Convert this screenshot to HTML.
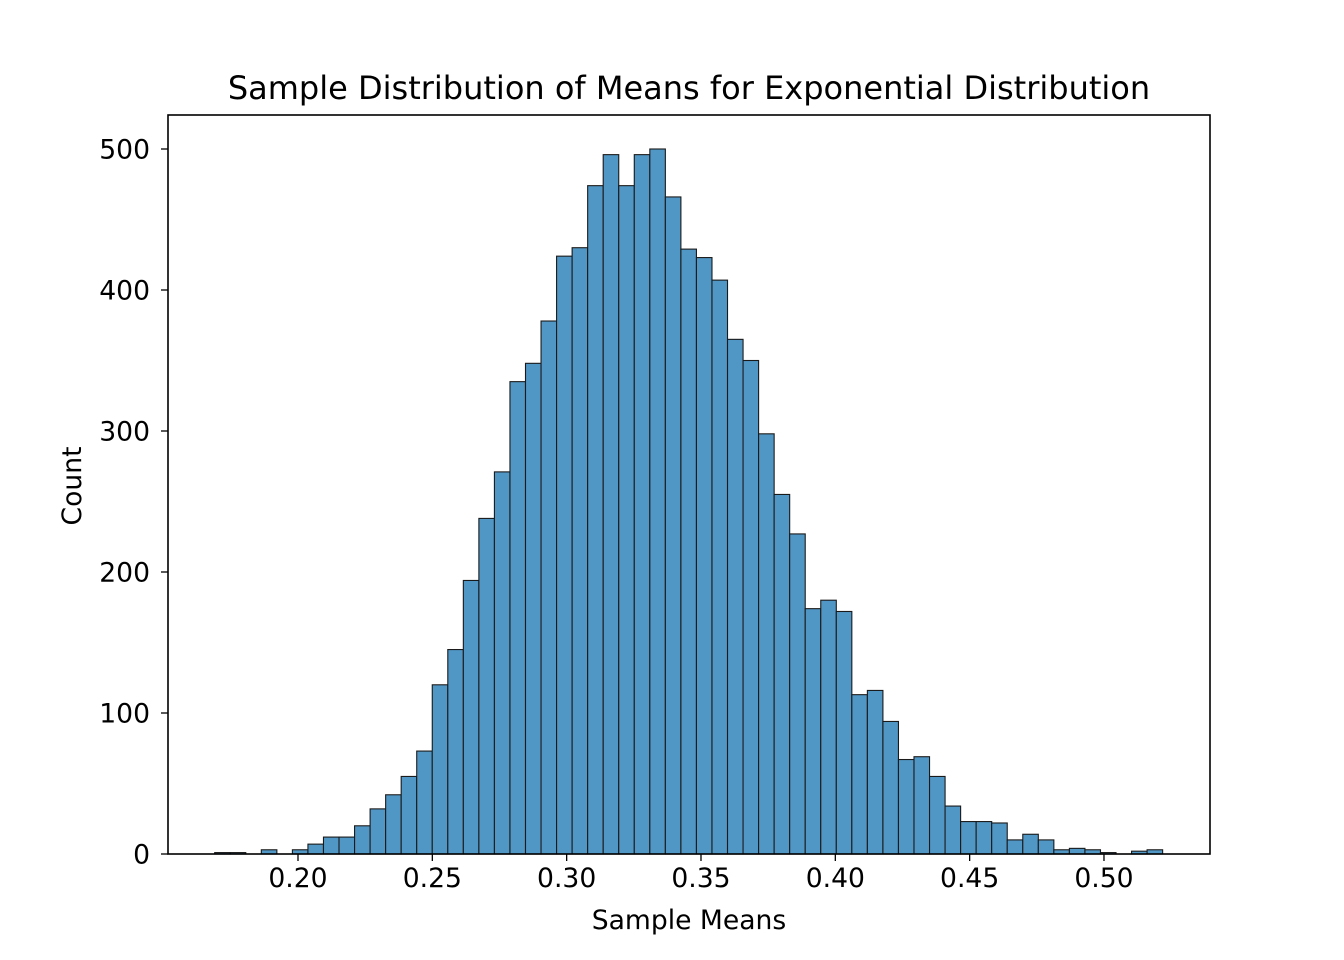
<!DOCTYPE html>
<html><head><meta charset="utf-8"><style>
html,body{margin:0;padding:0;background:#fff;}
svg{display:block;font-family:"DejaVu Sans","Liberation Sans",sans-serif;}
</style></head><body>
<svg id="s" width="1344" height="960" viewBox="0 0 1344 960" xmlns="http://www.w3.org/2000/svg">
<rect width="1344" height="960" fill="#fff"/>
<g id="bars"></g>
<rect x="168" y="115" width="1042" height="739" fill="none" stroke="#000" stroke-width="1.6"/>
<g id="ticks" fill="#000"></g>
<text x="689" y="99" font-size="32" text-anchor="middle">Sample Distribution of Means for Exponential Distribution</text>
<text x="689" y="929" font-size="26.6" text-anchor="middle">Sample Means</text>
<text x="0" y="0" font-size="26.6" text-anchor="middle" transform="translate(81,486) rotate(-90)">Count</text>
</svg>
<script>
var h=[1,1,0,3,0,3,7,12,12,20,32,42,55,73,120,145,194,238,271,335,348,378,424,430,474,496,474,496,500,466,429,423,407,365,350,298,255,227,174,180,172,113,116,94,67,69,55,34,23,23,22,10,14,10,3,4,3,1,0,2,3];
var ns="http://www.w3.org/2000/svg",g=document.getElementById("bars"),t=document.getElementById("ticks");
var x0=214.7,w=15.54,k=1.41,base=854;
function el(n,a,p){var e=document.createElementNS(ns,n);for(var i in a)e.setAttribute(i,a[i]);p.appendChild(e);return e;}
h.forEach(function(v,i){if(v<=0)return;el("rect",{x:x0+i*w,y:base-v*k,width:w,height:v*k,fill:"#5197c6",stroke:"#1a1a1a","stroke-width":1.1},g);});
for(var j=0;j<7;j++){var x=298+j*134.33;el("line",{x1:x,y1:854,x2:x,y2:861,stroke:"#000","stroke-width":1.3},t);var tx=el("text",{x:x,y:887,"text-anchor":"middle","font-size":26.6},t);tx.textContent=(0.2+j*0.05).toFixed(2);}
for(var j=0;j<=5;j++){var y=854-j*100*k;el("line",{x1:161,y1:y,x2:168,y2:y,stroke:"#000","stroke-width":1.3},t);var ty=el("text",{x:150,y:y+9.5,"text-anchor":"end","font-size":26.6},t);ty.textContent=String(j*100);}
</script>
</body></html>
